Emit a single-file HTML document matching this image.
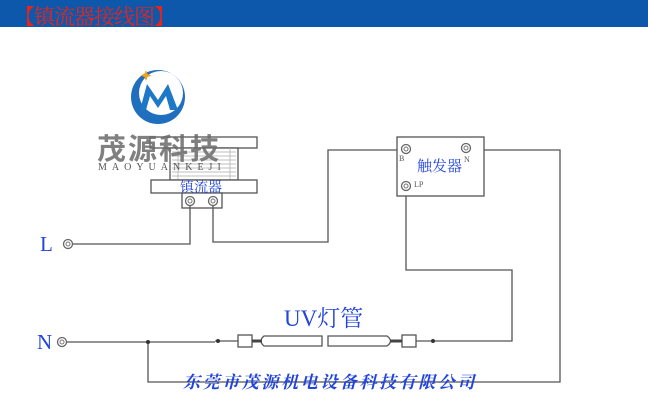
<!DOCTYPE html>
<html><head><meta charset="utf-8"><style>
body{margin:0;width:648px;height:407px;background:#fff;overflow:hidden;position:relative;font-family:"Liberation Serif","Noto Serif CJK SC",serif}
.bar{position:absolute;left:0;top:0;width:648px;height:27px;background:#0e58ab}
.t{position:absolute;white-space:nowrap}
</style></head><body>
<div class="bar"></div>
<div class="t" style="left:14px;top:1px;font-size:21px;color:#e8231a;font-family:'Liberation Serif','Noto Serif CJK SC',serif;letter-spacing:-1px">【镇流器接线图】</div>
<svg width="648" height="407" style="position:absolute;left:0;top:0">
<g fill="none" stroke="#555" stroke-width="1.3">
<rect x="150" y="137" width="107" height="11" fill="#fff"/>
<rect x="170" y="148" width="68" height="32" fill="#fff"/>
<g stroke="#aaa" stroke-width="0.7">
<line x1="172" y1="152" x2="236" y2="152"/><line x1="172" y1="156" x2="236" y2="156"/><line x1="172" y1="160" x2="236" y2="160"/><line x1="172" y1="164" x2="236" y2="164"/><line x1="172" y1="168" x2="236" y2="168"/><line x1="172" y1="172" x2="236" y2="172"/><line x1="172" y1="176" x2="236" y2="176"/>
<line x1="178" y1="148" x2="178" y2="180"/><line x1="230" y1="148" x2="230" y2="180"/></g>
<rect x="151" y="180" width="106" height="13" fill="#fff"/>
<rect x="182" y="193" width="40" height="15" fill="#fff"/>
<polyline points="72,244 190,244 190,205"/>
<polyline points="213,205 213,242 328,242 328,150 402,150"/>
<polyline points="66,342 215,342"/>
<polyline points="148,342 148,382 560,382 560,150 470,150"/>
<polyline points="406,190 406,270 512,270 512,341 433,341"/>
<line x1="415" y1="341" x2="433" y2="341"/>
<rect x="397" y="137" width="87" height="59" fill="#fff"/>
<line x1="215" y1="341" x2="238" y2="341"/>
<rect x="238" y="335" width="14" height="12" fill="#fff"/>
<rect x="402" y="335" width="14" height="12" fill="#fff"/>
<path d="M264 336 L322 336 L322 346 L264 346 Q258 341 264 336Z" fill="#fff"/>
<path d="M328 336 L387 336 Q394 341 387 346 L328 346Z" fill="#fff"/>
</g>
<g stroke="#444" stroke-width="3"><line x1="252" y1="341" x2="262" y2="341"/><line x1="390" y1="341" x2="402" y2="341"/></g>
<g fill="#333"><circle cx="148" cy="342" r="2"/><circle cx="218" cy="341" r="2"/><circle cx="433" cy="341" r="2"/></g>
<g fill="#fff" stroke="#666" stroke-width="1.3">
<circle cx="68" cy="244" r="4.5"/><circle cx="62" cy="342" r="4.5"/>
<circle cx="190" cy="201" r="4.5"/><circle cx="213" cy="201" r="4.5"/>
<circle cx="406" cy="149" r="4.5"/><circle cx="466" cy="148" r="4.5"/><circle cx="406" cy="186" r="4.5"/>
</g>
<g fill="#fff" stroke="#777"><circle cx="68" cy="244" r="2"/><circle cx="62" cy="342" r="2"/><circle cx="190" cy="201" r="2"/><circle cx="213" cy="201" r="2"/><circle cx="406" cy="149" r="2"/><circle cx="466" cy="148" r="2"/><circle cx="406" cy="186" r="2"/></g>
<circle cx="158" cy="97" r="27" fill="#1f6fbe"/>
<circle cx="161" cy="93" r="22" fill="#fff"/>
<path d="M140 110 L147 84 L158 100 L168 84 L178 110 L170 110 L166 96 L158 108 L150 96 L146 110Z" fill="#1d79c8"/>
<path d="M146 70 l1.5 4 4 1.5 -4 1.5 -1.5 4 -1.5 -4 -4 -1.5 4 -1.5z" fill="#f2a21b"/>
</svg>
<div class="t" style="left:97px;top:126px;font-size:29px;font-weight:bold;color:#6b6b6b;letter-spacing:2px;font-family:'Liberation Sans','Noto Sans CJK SC',sans-serif;opacity:.85">茂源科技</div>
<div class="t" style="left:98px;top:162px;font-size:10px;color:#555;letter-spacing:5px;font-family:'Liberation Serif',serif">MAOYUANKEJI</div>
<div class="t" style="left:180px;top:177px;font-size:14px;color:#2244dd">镇流器</div>
<div class="t" style="left:417px;top:155px;font-size:15px;color:#2244dd">触发器</div>
<div class="t" style="left:399px;top:154px;font-size:8px;color:#555">B</div>
<div class="t" style="left:464px;top:155px;font-size:8px;color:#555">N</div>
<div class="t" style="left:414px;top:180px;font-size:8px;color:#555">LP</div>
<div class="t" style="left:40px;top:232px;font-size:21px;color:#2244dd">L</div>
<div class="t" style="left:37px;top:330px;font-size:21px;color:#2244dd">N</div>
<div class="t" style="left:284px;top:300px;font-size:23px;color:#2244dd">UV灯管</div>
<div class="t" style="left:183px;top:368px;font-size:17px;font-weight:bold;font-style:italic;color:#2244dd;letter-spacing:2.6px">东莞市茂源机电设备科技有限公司</div>
</body></html>
